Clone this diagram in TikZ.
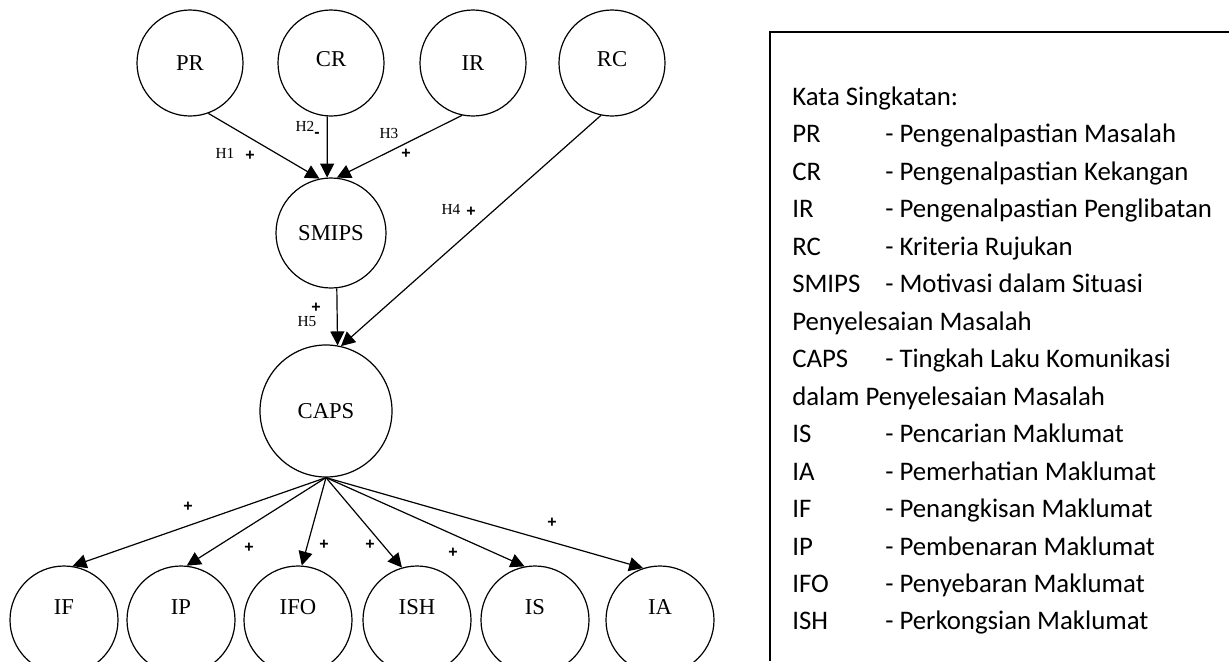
\documentclass[tikz,border=0pt]{standalone}
\usepackage{fontspec}
\setmainfont{Liberation Serif}
\newfontfamily\legfont{Carlito}
\newfontfamily\signfont{Liberation Sans}
\usetikzlibrary{arrows.meta}

\tikzset{
  var/.style={draw, circle, line width=0.9pt, inner sep=0pt,
    minimum size=79.5pt, font=\fontsize{17}{20}\selectfont},
  outvar/.style={var, minimum size=81pt, text height=12pt, text depth=20pt},
  link/.style={line width=0.9pt, -{Triangle[length=10.5pt,width=10.5pt]}},
  hyp/.style={inner sep=0pt, font=\fontsize{11.5}{13}\selectfont},
  sign/.style={inner sep=0pt, font=\signfont\bfseries\fontsize{12}{14}\selectfont},
  legend/.style={inner sep=0pt, anchor=base west,
    font=\legfont\fontsize{20.1}{24}\selectfont},
}

\begin{document}
\begin{tikzpicture}[x=0.75pt, y=-0.75pt]
  \useasboundingbox (0,0) rectangle (1229,661);
  % antecedents
  \node[var] (PR) at (190,63) {PR};
  \node[var, text depth=6pt] (CR) at (331,63) {CR};
  \node[var] (IR) at (473,63) {IR};
  \node[var, text depth=6pt] (RC) at (612,63) {RC};
  \node[var, minimum size=82.5pt] (SMIPS) at (331,233) {SMIPS};
  \node[var, minimum size=99pt] (CAPS) at (326,411) {CAPS};
  % outcomes
  \node[outvar] (IF) at (64,620) {IF};
  \node[outvar] (IP) at (181,620) {IP};
  \node[outvar] (IFO) at (298,620) {IFO};
  \node[outvar] (ISH) at (417,620) {ISH};
  \node[outvar] (IS) at (535,620) {IS};
  \node[outvar] (IA) at (660,620) {IA};

  \draw[link] (PR.-70) -- (SMIPS.102);
  \draw[link] (CR.-94) -- (SMIPS.94);
  \draw[link] (IR.-102) -- (SMIPS.84);
  \draw[link] (RC.-102) -- (CAPS.77);
  \draw[link] (SMIPS.-84) -- (CAPS.80);
  \foreach \v/\a in {IF/81,IP/84,IFO/86,ISH/106,IS/101,IA/108}
    \draw[link] (CAPS.south) -- (\v.\a);

  % hypotheses
  \node[hyp] (h1) at (225,153) {H1};
  \node[sign] (s1) at (250,156) {+};
  \node[hyp] (h2) at (305,126) {H2};
  \node[sign] (s2) at (317,135) {-};
  \node[hyp] (h3) at (389,133) {H3};
  \node[sign] (s3) at (406,154) {+};
  \node[hyp] (h4) at (451,209) {H4};
  \node[sign] (s4) at (471,212) {+};
  \node[hyp] (h5) at (307,322) {H5};
  \node[sign] (s5) at (316,308) {+};
  \foreach \n/\x/\y in {6/188/507,7/249/548,8/324/545,9/370/545,10/453/553,11/552/523}
    \node[sign] (s\n) at (\x,\y) {+};

  % legend
  \draw[line width=1.1pt] (770,661) -- (770,32) -- (1229,32);
  \foreach \i/\ab/\txt in {0/{Kata Singkatan:}/{},
      1/PR/{- Pengenalpastian Masalah},
      2/CR/{- Pengenalpastian Kekangan},
      3/IR/{- Pengenalpastian Penglibatan},
      4/RC/{- Kriteria Rujukan},
      5/SMIPS/{- Motivasi dalam Situasi},
      6/{Penyelesaian Masalah}/{},
      7/CAPS/{- Tingkah Laku Komunikasi},
      8/{dalam Penyelesaian Masalah}/{},
      9/IS/{- Pencarian Maklumat},
      10/IA/{- Pemerhatian Maklumat},
      11/IF/{- Penangkisan Maklumat},
      12/IP/{- Pembenaran Maklumat},
      13/IFO/{- Penyebaran Maklumat},
      14/ISH/{- Perkongsian Maklumat}} {
    \node[legend] (ab\i) at (792,{105.5+37.46*\i}) {\ab};
    \node[legend] (tx\i) at (885,{105.5+37.46*\i}) {\txt};
  }
\end{tikzpicture}
\end{document}
